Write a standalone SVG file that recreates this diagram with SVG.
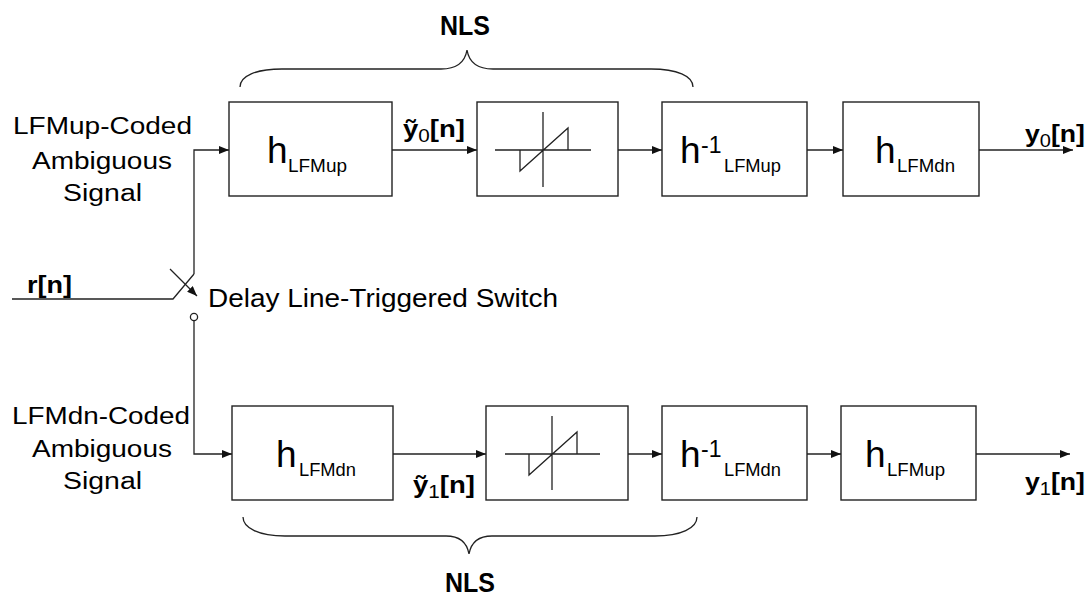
<svg xmlns="http://www.w3.org/2000/svg" width="1092" height="597" viewBox="0 0 1092 597">
<defs>
<marker id="arr" viewBox="0 0 10 8" refX="10" refY="4" markerWidth="10" markerHeight="8" markerUnits="userSpaceOnUse" orient="auto">
<path d="M0,0 L10,4 L0,8 z" fill="#111"/>
</marker>
</defs>
<style>
.box{fill:#fff;stroke:#222;stroke-width:1.4}
.ln{fill:none;stroke:#222;stroke-width:1.3}
.ar{fill:none;stroke:#222;stroke-width:1.3;marker-end:url(#arr)}
.t{font-family:"Liberation Sans",Arial,sans-serif;fill:#000}
.lbl{font-size:23px}
.h{font-size:37px}
.sub{font-size:18px}
.sup{font-size:23px}
.b{font-weight:bold}
.sig{font-size:24px;font-weight:bold}
</style>
<rect width="1092" height="597" fill="#fff"/>

<g id="connectors">
<path class="ln" d="M12,299 L173,299 L194,274"/>
<path class="ar" d="M194,274 L194,150 L229,150"/>
<path class="ar" d="M170,269 L197,296"/>
<circle class="ln" cx="194" cy="317" r="3.6"/>
<path class="ar" d="M194,321 L194,454 L232,454"/>
<path class="ar" d="M392,150 L477,150"/>
<path class="ar" d="M618,150 L662,150"/>
<path class="ar" d="M807,150 L843,150"/>
<path class="ar" d="M979,150 L1073,150"/>
<path class="ar" d="M393,454 L486,454"/>
<path class="ar" d="M628,454 L662,454"/>
<path class="ar" d="M807,454 L841,454"/>
<path class="ar" d="M976,454 L1070,454"/>
</g>

<g id="braces">
<path class="ln" d="M240,87 C240,76 256,69 282,69 L441,69 C456,69 465,62 467,50 C469,62 478,69 493,69 L651,69 C677,69 693,76 693,87"/>
<text class="t b" x="465" y="35" font-size="27" text-anchor="middle" textLength="50" lengthAdjust="spacingAndGlyphs">NLS</text>
<path class="ln" d="M243,517 C243,528 259,536 285,536 L446,536 C461,536 467,543 469,554 C471,543 477,536 492,536 L655,536 C681,536 697,528 697,517"/>
<text class="t b" x="470" y="592" font-size="27" text-anchor="middle" textLength="50" lengthAdjust="spacingAndGlyphs">NLS</text>
</g>

<g id="labels-left">
<text class="t lbl" x="13" y="134" textLength="179" lengthAdjust="spacingAndGlyphs">LFMup-Coded</text>
<text class="t lbl" x="32" y="169" textLength="140" lengthAdjust="spacingAndGlyphs">Ambiguous</text>
<text class="t lbl" x="63" y="201" textLength="79" lengthAdjust="spacingAndGlyphs">Signal</text>
<text class="t lbl" x="12" y="424" textLength="178" lengthAdjust="spacingAndGlyphs">LFMdn-Coded</text>
<text class="t lbl" x="32" y="457" textLength="140" lengthAdjust="spacingAndGlyphs">Ambiguous</text>
<text class="t lbl" x="63" y="489" textLength="79" lengthAdjust="spacingAndGlyphs">Signal</text>
<text class="t b" x="27" y="293" font-size="24" textLength="45" lengthAdjust="spacingAndGlyphs">r[n]</text>
<text class="t" x="208" y="307" font-size="25" textLength="350" lengthAdjust="spacingAndGlyphs">Delay Line-Triggered Switch</text>
</g>

<g id="node-t1">
<rect class="box" x="229" y="102" width="163" height="94"/>
<text class="t h" x="267" y="163">h</text>
<text class="t sub" x="288" y="172" textLength="59" lengthAdjust="spacingAndGlyphs">LFMup</text>
</g>
<g id="node-t2">
<rect class="box" x="477" y="102" width="141" height="94"/>
<path class="ln" d="M495,150 L591,150 M543,112 L543,187 M520,150 L520,171 L568,128 L568,150"/>
</g>
<g id="node-t3">
<rect class="box" x="662" y="102" width="145" height="94"/>
<text class="t h" x="680" y="163">h</text>
<text class="t sup" x="701" y="153">-1</text>
<text class="t sub" x="724" y="172" textLength="57" lengthAdjust="spacingAndGlyphs">LFMup</text>
</g>
<g id="node-t4">
<rect class="box" x="843" y="102" width="136" height="94"/>
<text class="t h" x="875" y="163">h</text>
<text class="t sub" x="897" y="172" textLength="58" lengthAdjust="spacingAndGlyphs">LFMdn</text>
</g>

<g id="node-b1">
<rect class="box" x="232" y="406" width="161" height="94"/>
<text class="t h" x="276" y="467">h</text>
<text class="t sub" x="299" y="476" textLength="57" lengthAdjust="spacingAndGlyphs">LFMdn</text>
</g>
<g id="node-b2">
<rect class="box" x="486" y="406" width="142" height="94"/>
<path class="ln" d="M505,454 L600,454 M552,416 L552,490 M529,454 L529,475 L577,432 L577,454"/>
</g>
<g id="node-b3">
<rect class="box" x="662" y="406" width="145" height="94"/>
<text class="t h" x="680" y="467">h</text>
<text class="t sup" x="701" y="457">-1</text>
<text class="t sub" x="724" y="476" textLength="57" lengthAdjust="spacingAndGlyphs">LFMdn</text>
</g>
<g id="node-b4">
<rect class="box" x="841" y="406" width="135" height="94"/>
<text class="t h" x="865" y="467">h</text>
<text class="t sub" x="887" y="476" textLength="58" lengthAdjust="spacingAndGlyphs">LFMup</text>
</g>

<g id="signal-labels">
<text class="t sig" x="403" y="137" textLength="62" lengthAdjust="spacingAndGlyphs">ỹ<tspan font-size="18" font-weight="normal" dy="5">0</tspan><tspan dy="-5">[n]</tspan></text>
<text class="t sig" x="413" y="493" textLength="62" lengthAdjust="spacingAndGlyphs">ỹ<tspan font-size="18" font-weight="normal" dy="5">1</tspan><tspan dy="-5">[n]</tspan></text>
<text class="t sig" x="1025" y="142" textLength="60" lengthAdjust="spacingAndGlyphs">y<tspan font-size="18" font-weight="normal" dy="5">0</tspan><tspan dy="-5">[n]</tspan></text>
<text class="t sig" x="1025" y="490" textLength="60" lengthAdjust="spacingAndGlyphs">y<tspan font-size="18" font-weight="normal" dy="5">1</tspan><tspan dy="-5">[n]</tspan></text>
</g>
</svg>
